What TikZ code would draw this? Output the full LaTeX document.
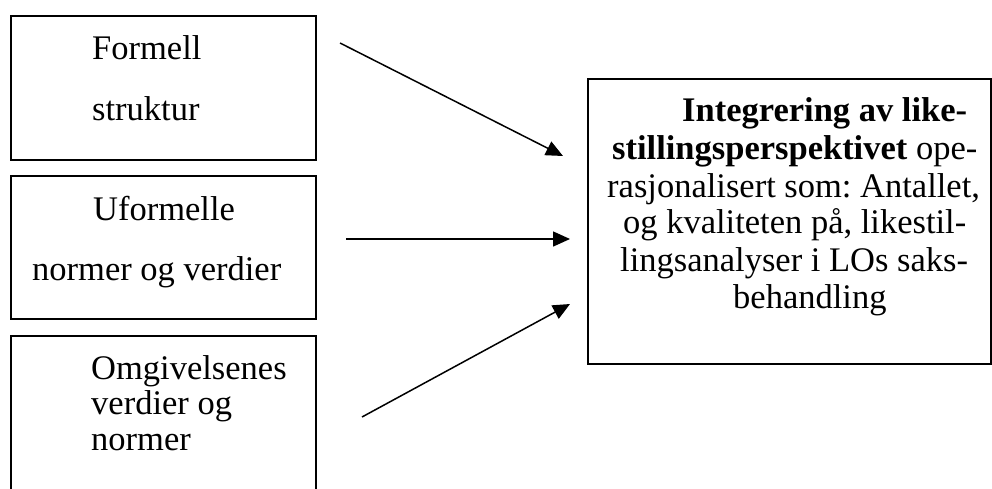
\documentclass[tikz,border=0pt]{standalone}
\usepackage{fontspec}
\setmainfont{Liberation Serif}
\usetikzlibrary{arrows.meta}
\frenchspacing
\begin{document}
\begin{tikzpicture}[x=1pt,y=-1pt,
  box/.style={draw,line width=1.8pt,inner sep=0pt,anchor=north west},
  lbl/.style={inner sep=0pt,anchor=base west,font=\fontsize{34.5}{37}\selectfont},
  arr/.style={line width=1.5pt,-{Triangle[length=17pt,width=15pt]}}]
\useasboundingbox (0,0) rectangle (992,489);
% boxes
\node[box,minimum width=305pt,minimum height=144pt] (b1) at (10,15) {};
\node[box,minimum width=305pt,minimum height=143pt] (b2) at (10,175) {};
\node[box,minimum width=305pt,minimum height=200pt] (b3) at (10,335) {};
\node[box,minimum width=403pt,minimum height=285pt] (b4) at (587,78) {};
% left texts
\node[lbl] (t1a) at (92,60) {Formell};
\node[lbl] (t1b) at (92,121) {struktur};
\node[lbl] (t2a) at (93,220) {Uformelle};
\node[lbl] (t2b) at (32,280) {normer og verdier};
\node[lbl] (t3a) at (91,379) {Omgivelsenes};
\node[lbl] (t3b) at (91,414) {verdier og};
\node[lbl] (t3c) at (91,450) {normer};
% right texts
\node[lbl] (r1) at (682,122) {\bfseries Integrering av like-};
\node[lbl] (r2) at (612,160) {\textbf{stillingsperspektivet} ope-};
\node[lbl] (r3) at (607,197) {rasjonalisert som: Antallet,};
\node[lbl] (r4) at (623,233) {og kvaliteten på, likestil-};
\node[lbl] (r5) at (620,271) {lingsanalyser i LOs saks-};
\node[lbl] (r6) at (733,308) {behandling};
% arrows
\coordinate (a1s) at (340,43);
\coordinate (a1e) at (563,156);
\coordinate (a2s) at (346,239);
\coordinate (a2e) at (570,239);
\coordinate (a3s) at (362,417);
\coordinate (a3e) at (570,304);
\draw[arr] (a1s) -- (a1e);
\draw[arr] (a2s) -- (a2e);
\draw[arr] (a3s) -- (a3e);
\end{tikzpicture}
\end{document}
